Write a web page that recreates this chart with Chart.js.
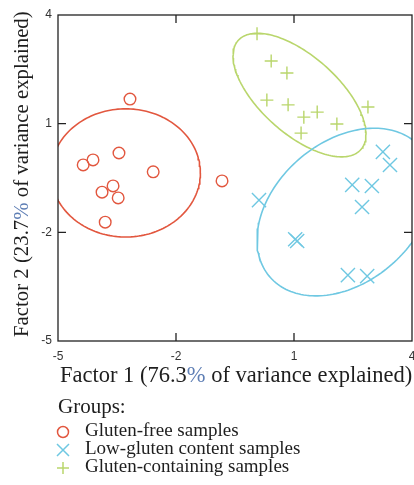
<!DOCTYPE html>
<html><head><meta charset="utf-8">
<script src="https://cdn.jsdelivr.net/npm/chart.js@4.4.1/dist/chart.umd.min.js"></script>
<style>html,body{margin:0;padding:0;background:#fff;}#wrap{width:414px;height:485px;position:relative;}</style>
</head><body><div id="wrap"><canvas id="c" width="414" height="485"></canvas></div>
<script>
// ---- data ----
const xTickValues = [-5, -2, 1, 4];
const yTickValues = [4, 1, -2, -5];
const groupNames = ['Gluten-free samples', 'Low-gluten content samples', 'Gluten-containing samples'];
const legendTitle = 'Groups:';
const xAxisTitle = 'Factor 1 (76.3% of variance explained)';
const yAxisTitle = 'Factor 2 (23.7% of variance explained)';

const glutenFreeX = [-4.36, -4.11, -3.45, -3.17, -2.58, -0.83, -3.88, -3.60, -3.47, -3.80];
const glutenFreeY = [-0.14, 0.00, 0.19, 1.68, -0.33, -0.58, -0.89, -0.72, -1.05, -1.72];

const lowGlutenX = [3.26, 3.44, 2.48, 2.98, 2.73, 0.11, 1.03, 1.08, 2.37, 2.86];
const lowGlutenY = [0.22, -0.14, -0.69, -0.72, -1.30, -1.11, -2.19, -2.24, -3.18, -3.21];

const glutenContX = [0.06, 0.42, 0.82, 0.31, 0.85, 1.25, 1.59, 2.09, 1.18, 2.88];
const glutenContY = [3.48, 2.73, 2.40, 1.65, 1.52, 1.18, 1.32, 0.99, 0.74, 1.46];

// confidence ellipses: [gluten-free, low-gluten, gluten-containing]
const ellipseCenterX = [-3.28, 2.30, 1.14];
const ellipseCenterY = [-0.36, -1.44, 1.79];
const ellipseSemiA = [1.90, 2.63, 2.17];
const ellipseSemiB = [1.77, 1.86, 1.03];
const ellipseAngleDeg = [0, 47.8, -45.4];

const colors = ['#e2573f', '#6fc8e2', '#b9d66c'];

function ellipsePoints(i) {
  const pts = [];
  const th = ellipseAngleDeg[i] * Math.PI / 180;
  const n = 180;
  for (let k = 0; k <= n; k++) {
    const t = 2 * Math.PI * k / n;
    const ca = ellipseSemiA[i] * Math.cos(t), sb = ellipseSemiB[i] * Math.sin(t);
    pts.push({ x: ellipseCenterX[i] + ca * Math.cos(th) - sb * Math.sin(th),
               y: ellipseCenterY[i] + ca * Math.sin(th) + sb * Math.cos(th) });
  }
  return pts;
}
const zip = (xs, ys) => xs.map((v, i) => ({ x: v, y: ys[i] }));

const ellipseDs = i => ({
  data: ellipsePoints(i), showLine: true, pointRadius: 0, borderColor: colors[i],
  borderWidth: 1.6, fill: false, tension: 0, order: 2, clip: 0
});

const decor = {
  id: 'decor',
  beforeDraw(chart) {
    const c = chart.ctx; c.save(); c.fillStyle = '#fff'; c.fillRect(0, 0, chart.width, chart.height); c.restore();
  },
  afterDatasetsDraw(chart) {
    const { ctx, chartArea: a, scales: { x, y } } = chart;
    ctx.save();
    ctx.strokeStyle = '#222'; ctx.lineWidth = 1.3;
    ctx.strokeRect(a.left, a.top, a.right - a.left, a.bottom - a.top);
    const tl = 8;
    ctx.beginPath();
    xTickValues.slice(1, -1).forEach(v => {
      const p = x.getPixelForValue(v);
      ctx.moveTo(p, a.bottom); ctx.lineTo(p, a.bottom - tl);
      ctx.moveTo(p, a.top); ctx.lineTo(p, a.top + tl);
    });
    yTickValues.slice(1, -1).forEach(v => {
      const p = y.getPixelForValue(v);
      ctx.moveTo(a.left, p); ctx.lineTo(a.left + tl, p);
      ctx.moveTo(a.right, p); ctx.lineTo(a.right - tl, p);
    });
    ctx.stroke();
    ctx.restore();
  },
  afterDraw(chart) {
    const ctx = chart.ctx;
    const dark = '#1e1e1e', pct = '#5f7fb5';
    function drawParts(str, x0, y0, font) {
      ctx.font = font;
      const i = str.indexOf('%');
      const a = str.slice(0, i), b = '%', c = str.slice(i + 1);
      let xx = x0;
      ctx.fillStyle = dark; ctx.fillText(a, xx, y0); xx += ctx.measureText(a).width;
      ctx.fillStyle = pct; ctx.fillText(b, xx, y0); xx += ctx.measureText(b).width;
      ctx.fillStyle = dark; ctx.fillText(c, xx, y0);
    }
    ctx.save();
    ctx.textBaseline = 'alphabetic'; ctx.textAlign = 'left';
    drawParts(xAxisTitle, 60, 382, '22.5px "Liberation Serif"');
    ctx.save();
    ctx.translate(28, 337); ctx.rotate(-Math.PI / 2);
    drawParts(yAxisTitle, 0, 0, '20.8px "Liberation Serif"');
    ctx.restore();
    // legend
    ctx.fillStyle = dark;
    ctx.font = '21px "Liberation Serif"';
    ctx.fillText(legendTitle, 58, 413);
    ctx.font = '19px "Liberation Serif"';
    const base = [436, 454, 472];
    groupNames.forEach((g, i) => {
      ctx.fillStyle = dark;
      ctx.fillText(g, 85, base[i]);
      const mx = 63, my = base[i] - 4;
      ctx.strokeStyle = colors[i]; ctx.lineWidth = 1.5;
      ctx.beginPath();
      if (i === 0) { ctx.arc(mx, my, 5.5, 0, 2 * Math.PI); }
      else if (i === 1) { ctx.moveTo(mx - 6, my - 6); ctx.lineTo(mx + 6, my + 6); ctx.moveTo(mx - 6, my + 6); ctx.lineTo(mx + 6, my - 6); }
      else { ctx.moveTo(mx - 6, my); ctx.lineTo(mx + 6, my); ctx.moveTo(mx, my - 6); ctx.lineTo(mx, my + 6); }
      ctx.stroke();
    });
    ctx.restore();
  }
};

new Chart(document.getElementById('c'), {
  type: 'scatter',
  data: {
    datasets: [
      ellipseDs(0), ellipseDs(1), ellipseDs(2),
      { label: groupNames[0], data: zip(glutenFreeX, glutenFreeY), pointStyle: 'circle', pointRadius: 5.8,
        borderColor: colors[0], backgroundColor: 'rgba(0,0,0,0)', borderWidth: 1.4, order: 1 },
      { label: groupNames[1], data: zip(lowGlutenX, lowGlutenY), pointStyle: 'crossRot', pointRadius: 10,
        borderColor: colors[1], backgroundColor: colors[1], borderWidth: 1.4, order: 1 },
      { label: groupNames[2], data: zip(glutenContX, glutenContY), pointStyle: 'cross', pointRadius: 6.5,
        borderColor: colors[2], backgroundColor: colors[2], borderWidth: 1.4, order: 1 }
    ]
  },
  options: {
    responsive: false, animation: false, devicePixelRatio: 1,
    layout: { autoPadding: false, padding: { top: 15, right: 2, left: 0, bottom: 0 } },
    plugins: { legend: { display: false }, tooltip: { enabled: false } },
    scales: {
      x: {
        type: 'linear', min: -5, max: 4,
        afterBuildTicks: s => { s.ticks = xTickValues.map(v => ({ value: v })); },
        afterFit: s => { s.height = 144; s.paddingLeft = 0; s.paddingRight = 0; },
        grid: { display: false, drawTicks: false }, border: { display: false },
        ticks: { padding: 8, color: '#333', font: { family: 'Liberation Sans', size: 12 }, maxRotation: 0, autoSkip: false }
      },
      y: {
        type: 'linear', min: -5, max: 4,
        afterBuildTicks: s => { s.ticks = yTickValues.map(v => ({ value: v })); },
        afterFit: s => { s.width = 58; },
        grid: { display: false, drawTicks: false }, border: { display: false },
        ticks: { padding: 6, color: '#333', font: { family: 'Liberation Sans', size: 12 }, autoSkip: false }
      }
    }
  },
  plugins: [decor]
});
</script></body></html>
